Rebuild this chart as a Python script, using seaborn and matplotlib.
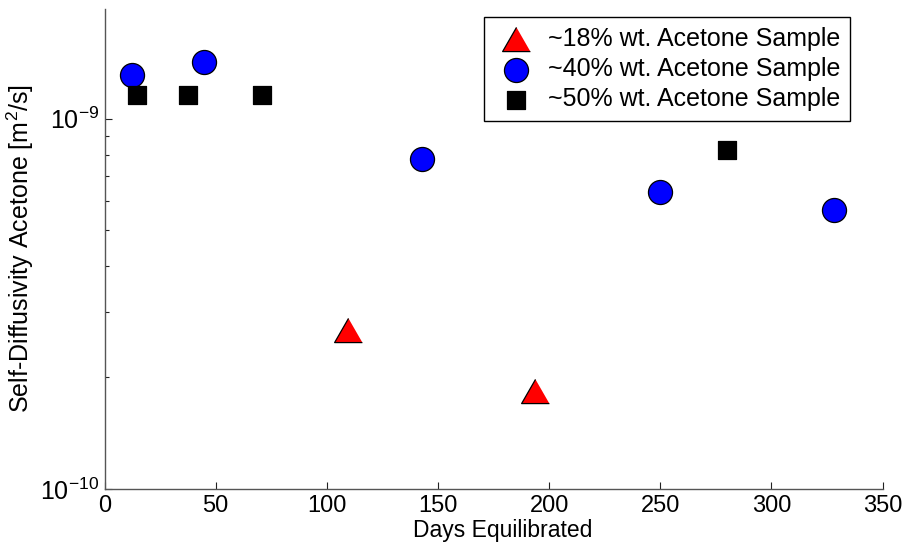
import matplotlib
matplotlib.use("Agg")
import matplotlib.pyplot as plt
import seaborn as sns
import pandas as pd
from matplotlib.ticker import LogLocator, FixedLocator

# Data
days_18 = [109.6, 193.6]
diff_18 = [2.69e-10, 1.84e-10]
days_40 = [12.5, 44.6, 143.0, 250.0, 328.0]
diff_40 = [1.315e-9, 1.426e-9, 7.78e-10, 6.35e-10, 5.65e-10]
days_50 = [14.5, 37.7, 70.8, 280.0]
diff_50 = [1.156e-9, 1.156e-9, 1.156e-9, 8.21e-10]
labels = ["~18% wt. Acetone Sample", "~40% wt. Acetone Sample", "~50% wt. Acetone Sample"]

sns.set_theme(style="white")
plt.rcParams['font.family'] = ['Liberation Sans', 'DejaVu Sans']
plt.rcParams['mathtext.fontset'] = 'custom'
plt.rcParams['mathtext.rm'] = 'Liberation Sans'
plt.rcParams['mathtext.it'] = 'Liberation Sans:italic'
plt.rcParams['mathtext.default'] = 'regular'
plt.rcParams['text.color'] = 'black'
plt.rcParams['axes.labelcolor'] = 'black'
plt.rcParams['xtick.color'] = 'black'
plt.rcParams['ytick.color'] = 'black'

fig = plt.figure(figsize=(9.09, 5.5), dpi=100)
ax = fig.add_axes([0.115, 0.111, 0.856, 0.873])

tri = [(0, 1), (-1.15, -1), (1.15, -1)]
series = [
    (days_18, diff_18, labels[0], "#ff0000", tri, 400),
    (days_40, diff_40, labels[1], "#0000ff", "o", 300),
    (days_50, diff_50, labels[2], "#000000", "s", 156),
]
for xs, ys, lab, col, mk, s in series:
    df = pd.DataFrame({"x": xs, "y": ys})
    sns.scatterplot(data=df, x="x", y="y", ax=ax, color=col, marker=mk, s=s,
                    edgecolor="black", linewidth=0.9, label=lab, zorder=3)

ax.set_yscale("log")
ax.set_xlim(0, 350)
ax.set_ylim(1e-10, 1.98e-9)
ax.set_xticks([0, 50, 100, 150, 200, 250, 300, 350])
ax.yaxis.set_major_locator(FixedLocator([1e-10, 1e-9]))
ax.yaxis.set_minor_locator(LogLocator(base=10, subs=range(2, 10), numticks=20))

for sp in ["top", "right"]:
    ax.spines[sp].set_visible(False)
for sp in ["left", "bottom"]:
    ax.spines[sp].set_color("#555555")
    ax.spines[sp].set_linewidth(1.0)

ax.tick_params(axis="both", which="major", direction="in", length=5, width=0.8,
               colors="#222222", labelcolor="black", pad=4)
ax.tick_params(axis="x", which="major", labelsize=17)
ax.tick_params(axis="y", which="major", labelsize=18)
ax.tick_params(axis="y", which="minor", direction="in", length=3, width=0.8, colors="#222222",
               left=True)
ax.tick_params(axis="x", which="minor", bottom=False)
ax.tick_params(axis="y", which="major", left=True)
ax.tick_params(axis="x", which="major", bottom=True)

ax.set_xlabel("Days Equilibrated", fontsize=16.5)
ax.set_ylabel("Self-Diffusivity Acetone [m$^2$/s]", fontsize=18)
ax.xaxis.set_label_coords(0.512, -0.062)
ax.yaxis.set_label_coords(-0.088, 0.5)

leg = ax.legend(loc="upper right", bbox_to_anchor=(0.958, 0.983), fontsize=18,
                frameon=True, fancybox=False, edgecolor="black", framealpha=1,
                borderaxespad=0, handletextpad=0.35, borderpad=0.4,
                labelspacing=0.25, handlelength=1.8)
leg.get_frame().set_linewidth(1.0)

fig.savefig("out.png", dpi=100, facecolor="white")
